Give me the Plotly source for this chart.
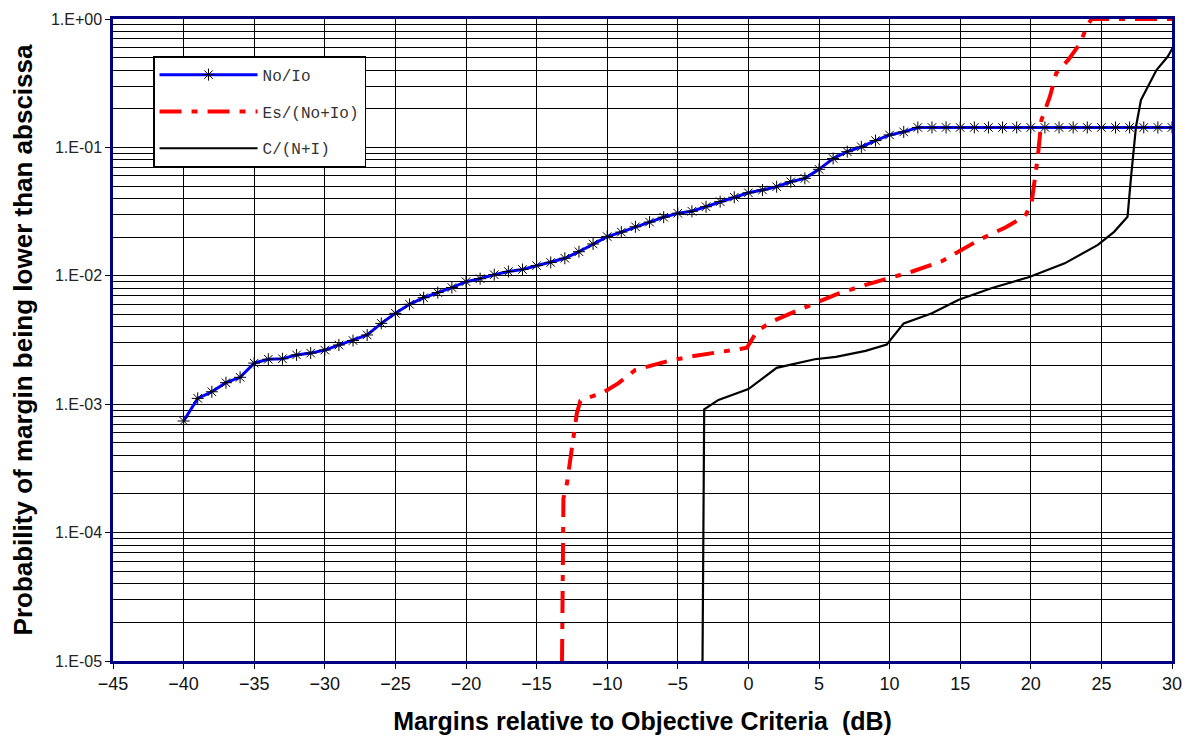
import plotly.graph_objects as go

# ---- data ----
no_io_x = [-40, -39, -38, -37, -36, -35, -34, -33, -32, -31, -30, -29, -28, -27, -26, -25,
           -24, -23, -22, -21, -20, -19, -18, -17, -16, -15, -14, -13, -12, -11, -10, -9,
           -8, -7, -6, -5, -4, -3, -2, -1, 0, 1, 2, 3, 4, 5, 6, 7, 8, 9, 10, 11, 12,
           13, 14, 15, 16, 17, 18, 19, 20, 21, 22, 23, 24, 25, 26, 27, 28, 29, 30]
no_io_y = [7.4e-4, 1.11e-3, 1.25e-3, 1.47e-3, 1.62e-3, 2.09e-3, 2.24e-3, 2.26e-3, 2.42e-3,
           2.5e-3, 2.64e-3, 2.89e-3, 3.13e-3, 3.46e-3, 4.26e-3, 5.1e-3, 6.0e-3, 6.75e-3,
           7.4e-3, 8.1e-3, 9.0e-3, 9.5e-3, 1.02e-2, 1.08e-2, 1.12e-2, 1.2e-2, 1.27e-2,
           1.37e-2, 1.54e-2, 1.77e-2, 2.02e-2, 2.19e-2, 2.41e-2, 2.62e-2, 2.86e-2, 3.07e-2,
           3.18e-2, 3.45e-2, 3.78e-2, 4.09e-2, 4.43e-2, 4.66e-2, 4.94e-2, 5.4e-2, 5.74e-2,
           6.75e-2, 8.2e-2, 9.26e-2, 0.101, 0.113, 0.125, 0.132, 0.143,
           0.143, 0.143, 0.143, 0.143, 0.143, 0.143, 0.143, 0.143, 0.143, 0.143, 0.143,
           0.143, 0.143, 0.143, 0.143, 0.143, 0.143, 0.143]

es_x = [-13.2, -13.1, -12.85, -12.6, -12.4, -12.15, -11.9, -11.7, -10.3, -9.2, -8.0, -7.0,
        -5.6, -4.0, -3.1, -1.65, -0.1, 0.6, 1.65, 3.0, 4.4, 6.4, 8.3, 9.8, 11.6, 13.7,
        14.9, 16.4, 18.2, 19.6, 20.05, 20.3, 20.5, 20.75, 21.35, 21.8, 22.65, 23.5, 23.95,
        24.3, 25.0, 30.0]
es_y = [1e-5, 1.85e-4, 2.42e-4, 3.67e-4, 5.58e-4, 8.5e-4, 1.06e-3, 1.09e-3, 1.23e-3,
        1.46e-3, 1.85e-3, 1.99e-3, 2.18e-3, 2.36e-3, 2.45e-3, 2.61e-3, 2.75e-3, 3.7e-3,
        4.4e-3, 5.1e-3, 5.9e-3, 7.3e-3, 8.5e-3, 9.4e-3, 1.08e-2, 1.30e-2, 1.54e-2, 1.92e-2,
        2.38e-2, 2.92e-2, 3.67e-2, 5.6e-2, 8.5e-2, 0.163, 0.248, 0.378, 0.48, 0.646, 0.87,
        1.0, 1.0, 1.0]

c_x = [-3.25, -3.13, -2.12, 0.0, 2.0, 3.3, 4.7, 6.2, 8.3, 9.8, 11.0, 13.0, 14.9, 17.2,
       19.9, 22.4, 24.75, 25.9, 26.85, 27.1, 27.45, 27.8, 28.9, 29.7, 30.3]
c_y = [1e-5, 9.1e-4, 1.08e-3, 1.31e-3, 1.92e-3, 2.08e-3, 2.24e-3, 2.34e-3, 2.6e-3,
       2.92e-3, 4.26e-3, 5.1e-3, 6.5e-3, 8.0e-3, 9.8e-3, 1.25e-2, 1.74e-2, 2.2e-2,
       2.88e-2, 5.9e-2, 0.145, 0.234, 0.40, 0.51, 0.666]

x_ticks = [-45, -40, -35, -30, -25, -20, -15, -10, -5, 0, 5, 10, 15, 20, 25, 30]
y_tickvals = [1e-5, 1e-4, 1e-3, 1e-2, 1e-1, 1e0]
y_ticktext = ["1.E-05", "1.E-04", "1.E-03", "1.E-02", "1.E-01", "1.E+00"]

# ---- figure ----
fig = go.Figure()
fig.add_trace(go.Scatter(
    x=no_io_x, y=no_io_y, name="No/Io", mode="lines+markers",
    line=dict(color="#0000FF", width=3),
    marker=dict(symbol="asterisk-open", size=10, color="black",
                line=dict(color="black", width=1)),
    legendgroup="a"))
fig.add_trace(go.Scatter(
    x=es_x, y=es_y, name="Es/(No+Io)", mode="lines",
    line=dict(color="#FF0000", width=4, dash="22px,10px,6px,10px"),
    legendgroup="b"))
fig.add_trace(go.Scatter(
    x=c_x, y=c_y, name="C/(N+I)", mode="lines",
    line=dict(color="black", width=2.2),
    legendgroup="c"))

fig.update_layout(
    width=1185, height=734,
    margin=dict(l=105, r=21, t=11, b=81),
    paper_bgcolor="white", plot_bgcolor="white",
    font=dict(family="Liberation Sans, Arial, sans-serif", size=14, color="black"),
    showlegend=True,
    legend=dict(x=0.0378, y=0.942, xanchor="left", yanchor="top",
                bgcolor="white", bordercolor="black", borderwidth=1.5,
                font=dict(family="Liberation Mono, Courier New, monospace", size=16,
                          color="#333333"),
                tracegroupgap=13, itemwidth=98),
)
fig.update_xaxes(
    range=[-45, 30], tickvals=x_ticks, ticks="outside", ticklen=5, tickcolor="black",
    showgrid=True, gridcolor="black", gridwidth=1,
    showline=True, linecolor="#000080", linewidth=2.5, mirror=True,
    zeroline=False, automargin=False,
    tickfont=dict(size=18, color="#111111"),
    title=dict(text="<b>Margins relative to Objective Criteria  (dB)</b>",
               font=dict(size=25), standoff=20),
)
fig.update_yaxes(
    type="log", range=[-5, 0], tickvals=y_tickvals, ticktext=y_ticktext,
    ticks="outside", ticklen=5, tickcolor="black",
    showgrid=True, gridcolor="black", gridwidth=1,
    minor=dict(dtick="D1", showgrid=True, gridcolor="black", gridwidth=1, ticks=""),
    showline=True, linecolor="#000080", linewidth=2.5, mirror=True,
    zeroline=False, automargin=False,
    tickfont=dict(size=16, color="#222222"),
    title=dict(text="<b>Probability of margin being lower than abscissa</b>",
               font=dict(size=26), standoff=12),
)

fig.write_html("out.html")
